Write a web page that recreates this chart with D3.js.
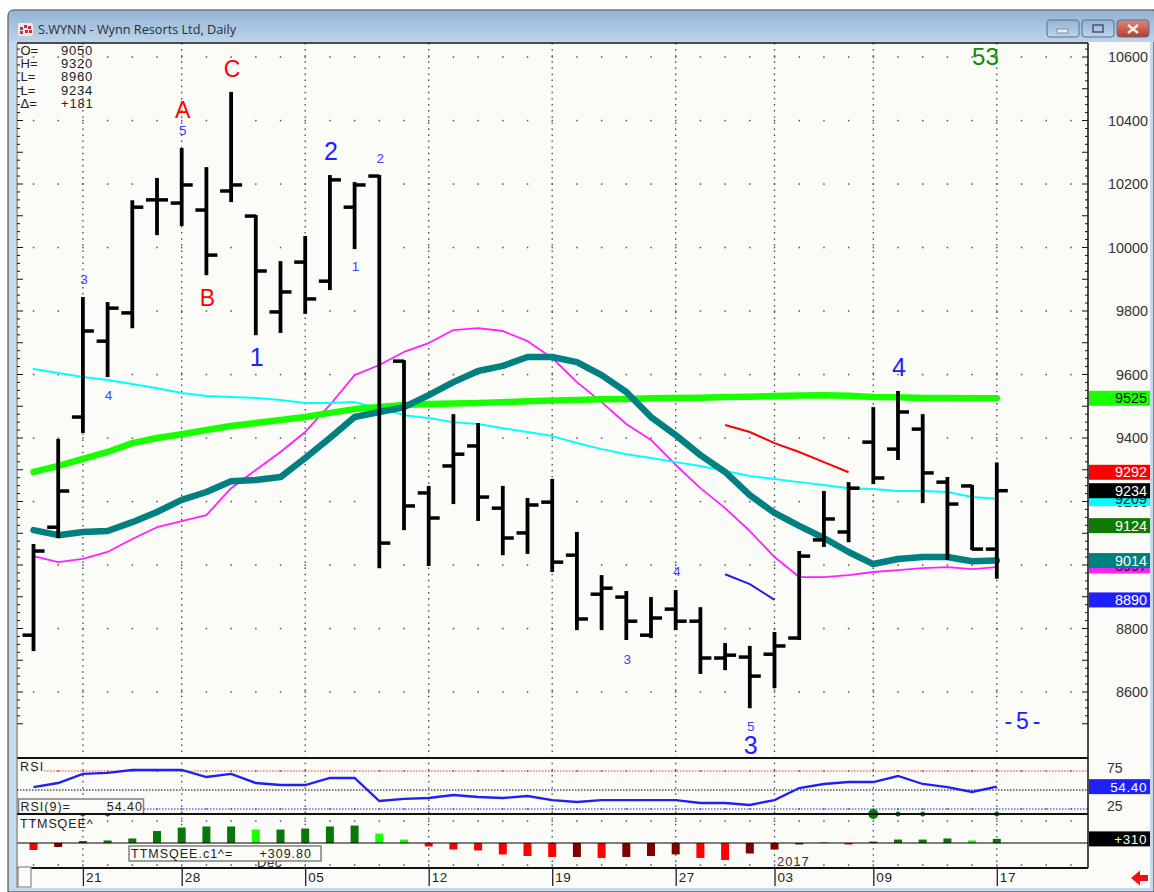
<!DOCTYPE html>
<html>

<head>
    <meta charset="utf-8">
    <title>S.WYNN - Wynn Resorts Ltd, Daily</title>
    <script src="https://d3js.org/d3.v7.min.js"></script>
    <style>
        body { margin: 0; background: #fff; }
        svg { display: block; font-family: "Liberation Sans", Arial, sans-serif; }
    </style>
</head>

<body>
    <div id="chart"></div>
    <script>

        // daily bars
        var opens = [8779, 9119, 9466, 9705, 9794, 10150, 10140, 10118, 10178, 10099, 9797, 9954, 9894, 10127, 10225, 9642, 9227, 9312, 9375, 9179, 9101, 9198, 9031, 8908, 8899, 8779, 8861, 8823, 8707, 8710, 8719, 8770, 9079, 9104, 9387, 9365, 9428, 9261, 9249, 9050];
        var highs = [9063, 9394, 9841, 9825, 10146, 10216, 10310, 10250, 10487, 10099, 9954, 10033, 10225, 10203, 10225, 9642, 9246, 9472, 9444, 9246, 9208, 9268, 9101, 8965, 8915, 8896, 8918, 8864, 8751, 8742, 8786, 9041, 9230, 9258, 9494, 9545, 9472, 9274, 9249, 9320];
        var lows = [8732, 9088, 9419, 9595, 9749, 10042, 10071, 9916, 10146, 9727, 9734, 9794, 9869, 9998, 8993, 9113, 9000, 9195, 9142, 9034, 9038, 8981, 8798, 8798, 8767, 8773, 8798, 8660, 8672, 8552, 8615, 8767, 9060, 9075, 9258, 9334, 9198, 9019, 9050, 8960];
        var closes = [9044, 9233, 9737, 9809, 10127, 10150, 10197, 9976, 10197, 9926, 9860, 9838, 10213, 10197, 9069, 9186, 9148, 9349, 9214, 9085, 9189, 9009, 8830, 8927, 8823, 8833, 8823, 8707, 8716, 8650, 8745, 9028, 9145, 9242, 9274, 9482, 9290, 9192, 9050, 9234];

        // moving averages
        var greenMa = [9293, 9312, 9334, 9356, 9384, 9400, 9412, 9425, 9438, 9447, 9457, 9466, 9479, 9491, 9498, 9504, 9507, 9509, 9510, 9513, 9516, 9518, 9520, 9522, 9523, 9525, 9526, 9527, 9529, 9530, 9532, 9534, 9535, 9533, 9529, 9528, 9526, 9526, 9525, 9525];
        var tealMa = [9110, 9094, 9104, 9107, 9135, 9167, 9205, 9230, 9264, 9268, 9277, 9337, 9400, 9466, 9482, 9497, 9535, 9576, 9611, 9627, 9655, 9655, 9639, 9598, 9545, 9466, 9409, 9346, 9293, 9220, 9164, 9123, 9085, 9041, 9003, 9019, 9025, 9025, 9012, 9014];
        var magentaMa = [9028, 9009, 9019, 9041, 9082, 9119, 9138, 9157, 9242, 9299, 9356, 9419, 9504, 9598, 9630, 9671, 9699, 9740, 9746, 9737, 9705, 9652, 9576, 9513, 9444, 9394, 9315, 9242, 9179, 9107, 9025, 8962, 8962, 8968, 8978, 8984, 8990, 8993, 8987, 8993];
        var cyanMa = [9617, 9605, 9592, 9583, 9570, 9557, 9542, 9532, 9529, 9526, 9520, 9510, 9510, 9513, 9494, 9472, 9463, 9450, 9444, 9431, 9419, 9406, 9384, 9365, 9349, 9337, 9324, 9312, 9296, 9280, 9271, 9261, 9252, 9242, 9239, 9233, 9233, 9230, 9214, 9209];

        // short projection lines, bars 28 onwards
        var redProjection = [9441, 9419, 9384, 9356, 9324, 9292];
        var blueProjection = [8971, 8940, 8890];
        var projectionStart = 28;

        // lower panels
        var rsiValues = [53.9, 59.2, 71.1, 72.4, 76.3, 76.3, 76.3, 67.1, 71.1, 59.2, 56.6, 56.6, 65.8, 65.8, 35.5, 38.2, 39.5, 43.4, 40.8, 39.5, 42.1, 36.8, 34.2, 36.8, 36.8, 36.8, 36.8, 32.9, 32.9, 30.3, 36.8, 52.6, 57.9, 60.5, 60.5, 68.4, 57.9, 53.9, 47.4, 54.4];
        var ttmValues = [-525, -300, 150, 190, 340, 900, 1160, 1240, 1240, 1010, 1010, 1090, 1240, 1310, 710, 260, -260, -490, -560, -860, -975, -1050, -1050, -1125, -1050, -975, -860, -1125, -1275, -790, -490, -110, 40, -110, 110, 260, 260, 340, 190, 310];
        var squeezeDots = [2, 3, 34, 35, 36, 39];

        // axes
        var priceTicks = [10600, 10400, 10200, 10000, 9800, 9600, 9400, 9200, 9000, 8800, 8600];
        var rsiTicks = [75, 25];
        var dateLabels = ["21", "28", "05", "12", "19", "27", "03", "09", "17"];
        var dateBars = [2, 6, 11, 16, 21, 26, 30, 34, 39];

        // last value flags on the right, drawn in this order
        var flagValues = [8890, 8997, 9014, 9124, 9209, 9234, 9292, 9525];
        var flagFill = ["#2020ff", "#ff20ff", "#008080", "#107a00", "#00ffff", "#000000", "#ff0000", "#1aff00"];
        var flagText = ["#fff", "#222", "#fff", "#fff", "#222", "#fff", "#fff", "#111"];

        // wave counts: [text, bar, price of baseline]
        var abcLabels = [["A", 6, 10408], ["C", 8, 10537], ["B", 7, 9816]];
        var bigWaves = [["1", 9, 9627], ["2", 12, 10276], ["3", 29, 8404], ["4", 35, 9595]];
        var smallWaves = [["5", 6, 10354], ["3", 2, 9885], ["4", 3, 9520], ["2", 14, 10266], ["1", 13, 9926], ["3", 24, 8688], ["4", 26, 8965], ["5", 29, 8477]];
        var fifthWave = [["- 5 -", 40, 8483]];
        var countLabel = [["53", 38.5, 10575]];

        var readoutNames = ["O=", "H=", "L=", "L=", "\u0394="];
        var readoutValues = ["9050", "9320", "8960", "9234", "+181"];

        var width = 1154, height = 892;
        var left = 17, right = 1088;
        var top_ = 43, priceBottom = 758, rsiBottom = 814, ttmBottom = 868;

        var svg = d3.select("#chart")
            .append("svg")
            .attr("width", width)
            .attr("height", height);

        var bars = d3.range(opens.length);

        // same scale for all panels
        var x = d3.scaleLinear().domain([0, 39]).range([33.5, 996.8]);
        var y = d3.scaleLinear().domain([8600, 10600]).range([692, 57]);
        var yRsi = d3.scaleLinear().domain([25, 75]).range([809, 771]);
        var yTtm = d3.scaleLinear().domain([0, 1000]).range([843, 829.7]);

        // ---- window frame
        var defs = svg.append("defs");
        var grad = defs.append("linearGradient").attr("id", "titleBar")
            .attr("x1", 0).attr("x2", 0).attr("y1", 0).attr("y2", 1);
        grad.append("stop").attr("offset", "0%").attr("stop-color", "#93b4d4");
        grad.append("stop").attr("offset", "100%").attr("stop-color", "#bdd4ea");
        var closeGrad = defs.append("linearGradient").attr("id", "closeBtn")
            .attr("x1", 0).attr("x2", 0).attr("y1", 0).attr("y2", 1);
        closeGrad.append("stop").attr("offset", "0%").attr("stop-color", "#d98a7e");
        closeGrad.append("stop").attr("offset", "100%").attr("stop-color", "#b83c2a");
        defs.append("clipPath").attr("id", "plotClip").append("rect")
            .attr("x", left).attr("y", top_).attr("width", right - left).attr("height", ttmBottom - top_);

        svg.append("path")
            .attr("d", "M8,892V16Q8,10 14,10H1154V892Z")
            .attr("fill", "#c5d9ee")
            .attr("stroke", "#333")
            .attr("stroke-width", 1);
        svg.append("path")
            .attr("d", "M9,42V16Q9,11 14,11H1154V42Z")
            .attr("fill", "url(#titleBar)");

        svg.append("rect")
            .attr("x", left - 1).attr("y", top_ - 1)
            .attr("width", 1150 - left + 1).attr("height", 888 - top_ + 1)
            .attr("fill", "#fbfbf8");

        // title icon
        var icon = svg.append("g");
        icon.append("rect").attr("x", 18).attr("y", 23).attr("width", 15).attr("height", 13).attr("rx", 2).attr("fill", "#f4e9e9");
        [[20, 27], [24, 25], [28, 26], [20, 31], [25, 30], [29, 30]].forEach(function (p) {
            icon.append("rect").attr("x", p[0]).attr("y", p[1]).attr("width", 3).attr("height", 3).attr("fill", "#c8323c");
        });
        svg.append("text")
            .attr("x", 38).attr("y", 34)
            .attr("font-size", 12.7).attr("fill", "#22303c")
            .style("font-family", "'Open Sans', 'Liberation Sans', sans-serif")
            .text("S.WYNN - Wynn Resorts Ltd, Daily");

        // window buttons
        [[1047, 32, "url(#titleBar)"], [1082, 32, "url(#titleBar)"], [1117, 32, "url(#closeBtn)"]].forEach(function (b) {
            svg.append("rect").attr("x", b[0]).attr("y", 20).attr("width", b[1]).attr("height", 17).attr("rx", 3)
                .attr("fill", b[2]).attr("stroke", "#5a6f8a").attr("stroke-width", 1);
        });
        svg.append("rect").attr("x", 1057).attr("y", 29).attr("width", 11).attr("height", 4).attr("fill", "#e6edf4").attr("stroke", "#5a6f8a").attr("stroke-width", 0.7);
        svg.append("rect").attr("x", 1093).attr("y", 25).attr("width", 10).attr("height", 7).attr("fill", "none").attr("stroke", "#45586e").attr("stroke-width", 1.5);
        svg.append("path").attr("d", "M1128,25L1138,33M1138,25L1128,33").attr("stroke", "#eee").attr("stroke-width", 2.5);

        // ---- grid: vertical dotted at the date ticks, horizontal sparse dots at each bar
        var grid = svg.append("g").attr("clip-path", "url(#plotClip)");
        grid.selectAll(".vgrid")
            .data(dateBars)
            .enter()
            .append("line")
            .attr("class", "vgrid")
            .attr("x1", function (d) { return x(d); })
            .attr("x2", function (d) { return x(d); })
            .attr("y1", top_)
            .attr("y2", ttmBottom)
            .attr("stroke", "#444")
            .attr("stroke-width", 1.3)
            .attr("stroke-dasharray", "1.5 4.6");

        var dotBars = d3.range(0, 43);
        var dotRows = priceTicks.map(function (d) { return y(d); }).concat([yRsi(75), yRsi(25), 821, 865]);
        dotRows.forEach(function (row) {
            grid.append("g").selectAll("rect")
                .data(dotBars)
                .enter()
                .append("rect")
                .attr("x", function (d) { return x(d) - 0.7; })
                .attr("y", row - 0.7)
                .attr("width", 1.5)
                .attr("height", 1.5)
                .attr("fill", "#555");
        });

        // ---- price panel
        var line = d3.line()
            .x(function (d, i) { return x(i); })
            .y(function (d) { return y(d); });

        var maLines = [
            { values: magentaMa, color: "#ff20ff", w: 1.8 },
            { values: cyanMa, color: "#00ffff", w: 2 },
            { values: greenMa, color: "#1aff00", w: 6.5 },
            { values: tealMa, color: "#008080", w: 6.5 }
        ];
        maLines.forEach(function (m) {
            svg.append("path")
                .datum(m.values)
                .attr("fill", "none")
                .attr("stroke", m.color)
                .attr("stroke-width", m.w)
                .attr("stroke-linecap", "round")
                .attr("stroke-linejoin", "round")
                .attr("d", line);
        });

        var projLine = d3.line()
            .x(function (d, i) { return x(projectionStart + i); })
            .y(function (d) { return y(d); });
        svg.append("path").datum(redProjection).attr("fill", "none").attr("stroke", "#ff0000").attr("stroke-width", 2).attr("d", projLine);
        svg.append("path").datum(blueProjection).attr("fill", "none").attr("stroke", "#2020e0").attr("stroke-width", 2).attr("d", projLine);

        // OHLC bars
        var barG = svg.append("g").selectAll("g")
            .data(bars)
            .enter()
            .append("g");
        barG.append("line")
            .attr("x1", function (d) { return x(d); })
            .attr("x2", function (d) { return x(d); })
            .attr("y1", function (d) { return y(highs[d]) - 1; })
            .attr("y2", function (d) { return y(lows[d]) + 1; })
            .attr("stroke", "#000")
            .attr("stroke-width", 3.8);
        barG.append("line")
            .attr("x1", function (d) { return x(d) - 11; })
            .attr("x2", function (d) { return x(d); })
            .attr("y1", function (d) { return y(opens[d]); })
            .attr("y2", function (d) { return y(opens[d]); })
            .attr("stroke", "#000")
            .attr("stroke-width", 3.5);
        barG.append("line")
            .attr("x1", function (d) { return x(d); })
            .attr("x2", function (d) { return x(d) + 11; })
            .attr("y1", function (d) { return y(closes[d]); })
            .attr("y2", function (d) { return y(closes[d]); })
            .attr("stroke", "#000")
            .attr("stroke-width", 3.5);

        // wave labels
        function drawLabels(list, size, color) {
            return svg.append("g").selectAll("text")
                .data(list)
                .enter()
                .append("text")
                .attr("x", function (d) { return x(d[1]) + 1; })
                .attr("y", function (d) { return y(d[2]); })
                .attr("text-anchor", "middle")
                .attr("font-size", size)
                .attr("fill", color)
                .text(function (d) { return d[0]; });
        }
        drawLabels(abcLabels, 23, "#ff0000");
        drawLabels(bigWaves, 25, "#2020ff");
        drawLabels(smallWaves, 13.5, "#4040ff");
        drawLabels(fifthWave, 23, "#2020ff").style("word-spacing", "-2.5px");
        drawLabels(countLabel, 24, "#0a8a0a");

        // readout top left
        svg.append("g").selectAll("text")
            .data(readoutNames)
            .enter()
            .append("text")
            .attr("x", 20.5)
            .attr("y", function (d, i) { return 54.5 + i * 13.4; })
            .attr("font-size", 13)
            .attr("fill", "#222")
            .text(function (d) { return d; });
        svg.append("g").selectAll("text")
            .data(readoutValues)
            .enter()
            .append("text")
            .attr("x", 61)
            .attr("y", function (d, i) { return 54.5 + i * 13.4; })
            .attr("font-size", 13)
            .attr("letter-spacing", 0.8)
            .attr("fill", "#222")
            .text(function (d) { return d; });

        // ---- RSI panel
        [[75, "#ff3030", 1.2, 44], [50, "#555", 1.5, left], [25, "#2020ff", 1.2, 144]].forEach(function (r) {
            svg.append("line")
                .attr("x1", r[3]).attr("x2", right)
                .attr("y1", yRsi(r[0])).attr("y2", yRsi(r[0]))
                .attr("stroke", r[1]).attr("stroke-width", r[2])
                .attr("stroke-dasharray", "1.5 1.5");
        });
        svg.append("path")
            .datum(rsiValues)
            .attr("fill", "none")
            .attr("stroke", "#2020f0")
            .attr("stroke-width", 2.3)
            .attr("d", d3.line()
                .x(function (d, i) { return x(i); })
                .y(function (d) { return yRsi(d); }));
        svg.append("text").attr("x", 20).attr("y", 771).attr("font-size", 12.5).attr("letter-spacing", 1.2).attr("fill", "#222").text("RSI");

        // ---- TTM panel
        function ttmColor(d, i) {
            var prev = i > 0 ? ttmValues[i - 1] : 0;
            if (d >= 0) return (d < prev) ? "#1aff00" : "#087808";
            return (d < prev) ? "#ff0000" : "#800000";
        }
        svg.append("g").selectAll("circle")
            .data(squeezeDots)
            .enter()
            .append("circle")
            .attr("cx", function (d) { return x(d); })
            .attr("cy", 814)
            .attr("r", function (d) { return d === 34 ? 5 : 2.5; })
            .attr("fill", "#087808");

        svg.append("g").selectAll("rect")
            .data(ttmValues)
            .enter()
            .append("rect")
            .attr("x", function (d, i) { return x(i) - 4; })
            .attr("y", function (d) { return Math.min(yTtm(d), yTtm(0)); })
            .attr("width", 8)
            .attr("height", function (d) { return Math.abs(yTtm(d) - yTtm(0)); })
            .attr("fill", ttmColor);
        svg.append("line")
            .attr("x1", left).attr("x2", right)
            .attr("y1", yTtm(0)).attr("y2", yTtm(0))
            .attr("stroke", "#000").attr("stroke-width", 1.2);
        svg.append("text").attr("x", 20).attr("y", 828).attr("font-size", 12.5).attr("letter-spacing", 0.9).attr("fill", "#222").text("TTMSQEE^");

        svg.append("text").attr("x", 257).attr("y", 867).attr("font-size", 13).attr("letter-spacing", 0.6).attr("fill", "#333").text("Dec");
        svg.append("text").attr("x", 777).attr("y", 866).attr("font-size", 13).attr("letter-spacing", 0.9).attr("fill", "#333").text("2017");

        // boxes over the panels
        function infoBox(bx, by, bw, bh, name, val, valX) {
            svg.append("rect").attr("x", bx).attr("y", by).attr("width", bw).attr("height", bh)
                .attr("fill", "#fbfbf8").attr("stroke", "#808080").attr("stroke-width", 1.5);
            svg.append("text").attr("x", bx + 2).attr("y", by + bh - 3).attr("font-size", 12.5).attr("letter-spacing", 1).attr("fill", "#222").text(name);
            svg.append("text").attr("x", valX).attr("y", by + bh - 3).attr("font-size", 12.5).attr("letter-spacing", 1).attr("text-anchor", "end").attr("fill", "#222").text(val);
        }
        infoBox(18.5, 799, 125, 15, "RSI(9)=", "54.40", 143);
        infoBox(129, 846, 192, 15, "TTMSQEE.c1^=", "+309.80", 312);

        // panel borders
        svg.append("g").selectAll("line")
            .data([top_, priceBottom, rsiBottom, ttmBottom])
            .enter()
            .append("line")
            .attr("x1", left).attr("x2", right)
            .attr("y1", function (d) { return d; })
            .attr("y2", function (d) { return d; })
            .attr("stroke", "#111")
            .attr("stroke-width", function (d) { return d === top_ ? 1.5 : 2; });
        svg.append("line")
            .attr("x1", right).attr("x2", right)
            .attr("y1", top_).attr("y2", ttmBottom)
            .attr("stroke", "#111").attr("stroke-width", 1.5);
        svg.append("line")
            .attr("x1", left).attr("x2", left)
            .attr("y1", top_).attr("y2", 888)
            .attr("stroke", "#555").attr("stroke-width", 1);

        // ---- axes
        var minorTicks = d3.range(8500, 10700, 25).filter(function (d) { return y(d) > top_ && y(d) < priceBottom; });
        [[right, -1], [left, 1]].forEach(function (side) {
            svg.append("g").selectAll("line")
                .data(minorTicks)
                .enter()
                .append("line")
                .attr("x1", side[0])
                .attr("x2", function (d) { return side[0] + side[1] * (d % 100 === 0 ? 6 : 3); })
                .attr("y1", function (d) { return y(d); })
                .attr("y2", function (d) { return y(d); })
                .attr("stroke", "#111")
                .attr("stroke-width", 1);
        });

        var priceAxis = d3.axisRight(y).tickValues(priceTicks).tickSize(0).tickPadding(19).tickFormat(d3.format("d"));
        var priceG = svg.append("g").attr("transform", "translate(" + right + ",0)").call(priceAxis);
        priceG.select(".domain").remove();
        priceG.selectAll("text").attr("font-size", 14.4).attr("fill", "#333").style("font-family", "'Liberation Sans', sans-serif");
        priceG.selectAll("text").attr("text-anchor", "end").attr("x", 60);

        var rsiAxis = d3.axisRight(yRsi).tickValues(rsiTicks).tickSize(0).tickFormat(d3.format("d"));
        var rsiG = svg.append("g").attr("transform", "translate(" + right + ",0)").call(rsiAxis);
        rsiG.select(".domain").remove();
        rsiG.selectAll("text").attr("x", 19).attr("dy", "0.1em").attr("font-size", 14).attr("fill", "#333").style("font-family", "'Liberation Sans', sans-serif");

        // date strip
        var dateAxis = d3.axisBottom(d3.scaleOrdinal().domain(dateLabels).range(dateBars.map(function (d) { return x(d); })))
            .tickSize(18).tickPadding(-14);
        var dateG = svg.append("g").attr("transform", "translate(0," + ttmBottom + ")").call(dateAxis);
        dateG.select(".domain").remove();
        dateG.selectAll("line").attr("stroke", "#222").attr("stroke-width", 1.3);
        dateG.selectAll("text")
            .attr("text-anchor", "start")
            .attr("x", 2.5)
            .attr("font-size", 13.5)
            .attr("letter-spacing", 0.6)
            .attr("fill", "#222")
            .style("font-family", "'Liberation Sans', sans-serif");

        svg.append("rect").attr("x", 18).attr("y", 867).attr("width", 13).attr("height", 20)
            .attr("fill", "#fbfbf8").attr("stroke", "#888").attr("stroke-width", 1.2);

        // value flags
        var flags = svg.append("g").selectAll("g")
            .data(flagValues)
            .enter()
            .append("g")
            .attr("transform", function (d) { return "translate(1089," + y(d) + ")"; });
        flags.append("rect")
            .attr("x", 0).attr("y", -7.5).attr("width", 61).attr("height", 15)
            .attr("fill", function (d, i) { return flagFill[i]; });
        flags.append("text")
            .attr("x", 58).attr("y", 5)
            .attr("text-anchor", "end")
            .attr("font-size", 14.4)
            .attr("fill", function (d, i) { return flagText[i]; })
            .text(function (d) { return d; });

        // RSI and TTM flags
        [[yRsi(54.4), "#2020ff", "54.40"], [yTtm(310), "#000", "+310"]].forEach(function (f) {
            svg.append("rect").attr("x", 1089).attr("y", f[0] - 7.5).attr("width", 61).attr("height", 15).attr("fill", f[1]);
            svg.append("text").attr("x", 1147).attr("y", f[0] + 5).attr("text-anchor", "end").attr("font-size", 13.5).attr("letter-spacing", 0.6).attr("fill", "#fff").text(f[2]);
        });

        // scroll arrow bottom right
        svg.append("path")
            .attr("d", "M1131,878L1140,870.5V875H1148V881H1140V885.5Z")
            .attr("fill", "#f01010");

    </script>
</body>

</html>
